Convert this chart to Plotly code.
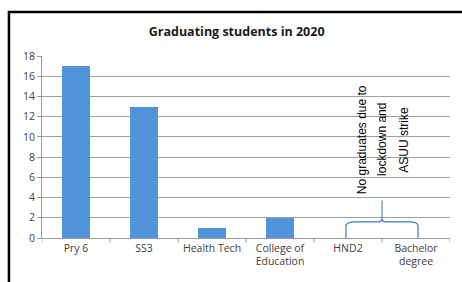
import plotly.graph_objects as go

categories = ["Pry 6", "SS3", "Health Tech", "College of<br>Education", "HND2", "Bachelor<br>degree"]
students = [17, 13, 1, 2, 0, 0]
y_ticks = [0, 2, 4, 6, 8, 10, 12, 14, 16, 18]
note_lines = ["No graduates due to", "lockdown and", "ASUU strike"]
title_text = "Graduating students in 2020"

idx = list(range(len(categories)))
fig = go.Figure()
fig.add_trace(go.Bar(x=idx, y=students, width=0.41, marker=dict(color="#4f93d8", line=dict(width=0)),
                     showlegend=False, hoverinfo="skip"))

# brace spanning HND2 .. Bachelor degree (category indices)
a, b = idx[4], idx[5]
m = (a + b) / 2
brace = (f"M {a-0.03},0 L {a-0.03},1.2 Q {a-0.03},1.6 {a+0.12},1.6 L {m-0.06},1.6 "
         f"Q {m},1.6 {m},1.9 Q {m},1.6 {m+0.06},1.6 L {b-0.1},1.6 Q {b+0.03},1.6 {b+0.03},1.2 L {b+0.03},0")
fig.add_shape(type="path", path=brace, xref="x", yref="y", line=dict(color="#4472c4", width=1.2))
fig.add_shape(type="line", xref="x", yref="y", x0=m, x1=m, y0=1.9, y1=3.7, line=dict(color="#4472c4", width=1))

offsets = [-0.29, 0.0, 0.32]
for line_txt, off in zip(note_lines, offsets):
    fig.add_annotation(x=m + off, y=9.7, xref="x", yref="y", text=line_txt, textangle=-90,
                       showarrow=False, font=dict(family="Liberation Sans", size=12, color="#000000"))

# outer frame
fig.add_shape(type="rect", xref="paper", yref="paper", x0=-0.081, x1=1.2, y0=-0.5, y1=1.2418,
              line=dict(color="#000000", width=2.5), layer="above")

fig.update_layout(
    width=462, height=282,
    margin=dict(l=42, r=12, t=56, b=44),
    paper_bgcolor="white", plot_bgcolor="white",
    font=dict(family="Open Sans", size=10, color="#404040"),
    title=dict(text="<b>" + title_text + "</b>", x=0.477, xref="paper", xanchor="center",
               y=1 - 32/282, yanchor="middle", font=dict(family="Open Sans", size=12.5, color="#1a1a1a")),
    bargap=0,
)
fig.update_xaxes(tickmode="array", tickvals=idx, ticktext=categories, range=[-0.5, 5.5],
                 showline=True, linecolor="#9a9a9a", linewidth=1, ticks="outside", ticklen=0,
                 showgrid=False, zeroline=False, tickfont=dict(size=10.5, color="#404040"))
for k in range(len(categories) + 1):
    fig.add_shape(type="line", xref="x", yref="paper", x0=k - 0.5, x1=k - 0.5, y0=0, y1=-0.025,
                  line=dict(color="#9a9a9a", width=1))
fig.update_yaxes(range=[0, 18], tickvals=y_ticks, showline=True, linecolor="#9a9a9a", linewidth=1,
                 ticks="outside", ticklen=4, tickcolor="#9a9a9a", showgrid=True, gridcolor="#a0a0a0",
                 gridwidth=1, zeroline=False, tickfont=dict(size=10.5, color="#404040"))

fig.write_html("out.html", config={"displayModeBar": False},
               post_script="document.body.style.margin='0px';document.body.style.overflow='hidden';")
